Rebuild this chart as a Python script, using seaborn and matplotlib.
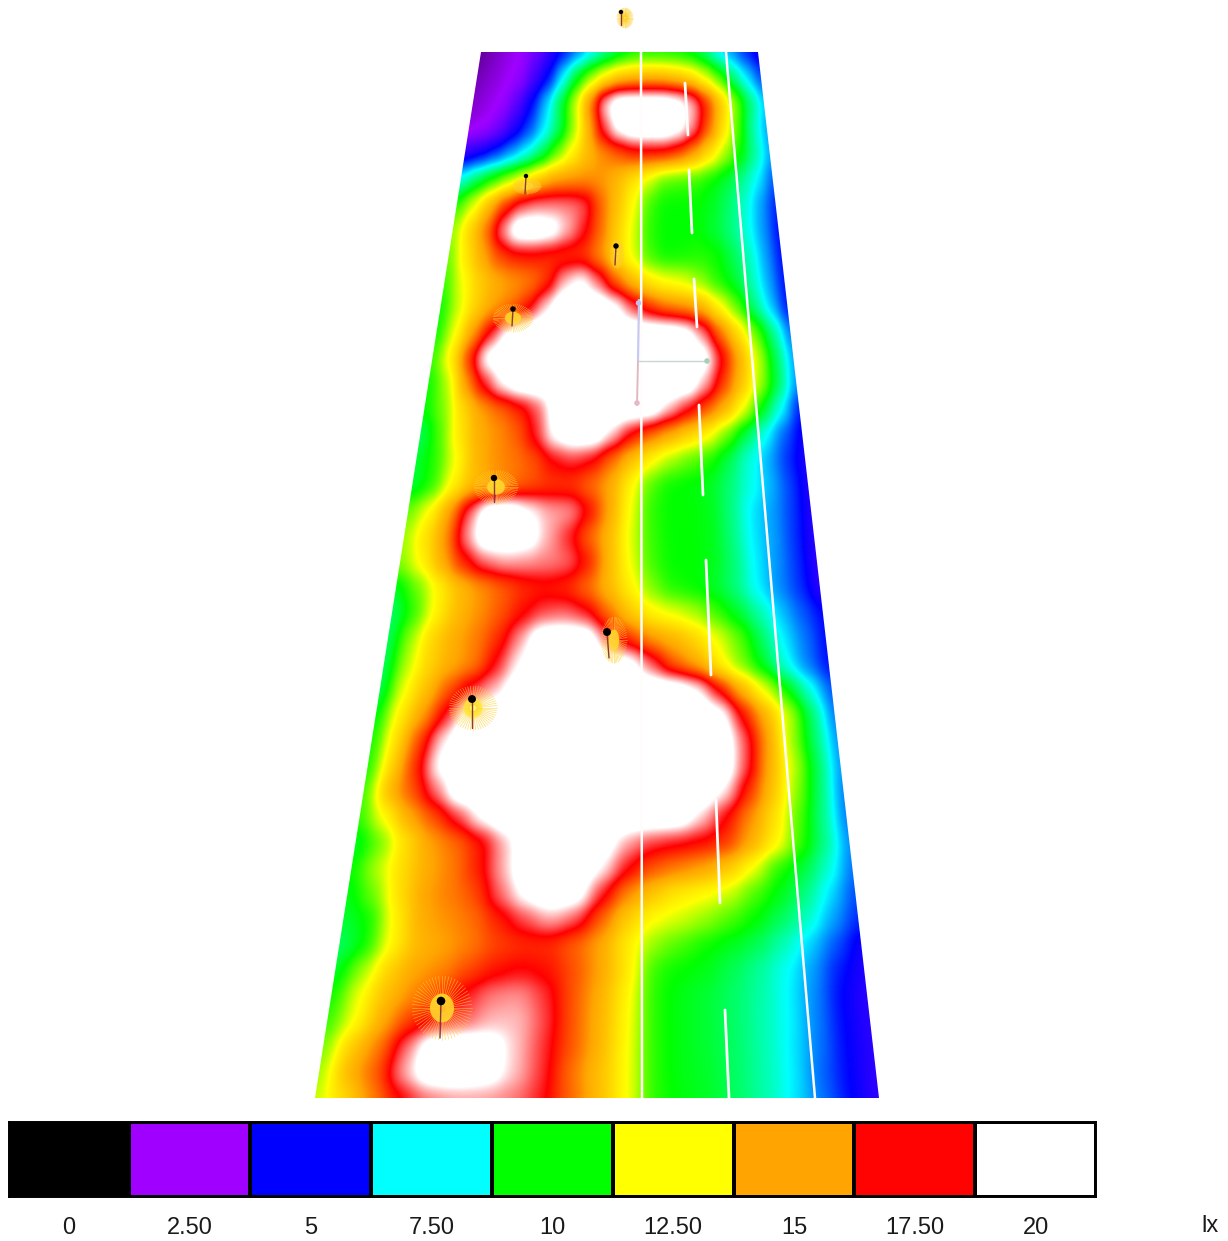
"""
False-colour illuminance map of a road section, lux scale underneath.
"""

import numpy as np
import matplotlib.pyplot as plt
import seaborn as sns
from matplotlib.colors import LinearSegmentedColormap
from matplotlib.patches import Ellipse, Polygon
from matplotlib.transforms import Transform

# scale
SCALE_VALUES = [0, 2.5, 5, 7.5, 10, 12.5, 15, 17.5, 20]
SCALE_LABELS = ["0", "2.50", "5", "7.50", "10", "12.50", "15", "17.50", "20"]
SCALE_COLORS = ["#000000", "#A000FF", "#0000FF", "#00FFFF", "#00FF00",
                "#FFFF00", "#FFA500", "#FF0000", "#FFFFFF"]
WHITE_CAP = 21.5  # everything brighter just reads as white

# lux: one row per scan line, far end first, left kerb to right kerb
ROW_00 = [1.5, 1.9, 2.3, 2.6, 3.3, 4.3, 5.2, 6.2, 7.4, 8.4, 9.3, 9.9, 10, 10, 9.9, 9.6, 8.9, 7.4, 6.4, 5.4, 4.6]
ROW_01 = [1.8, 2.1, 2.4, 2.7, 3.9, 5, 7.4, 9.8, 11.5, 12.9, 14, 14.4, 14.5, 14.4, 14, 13.4, 12.2, 10.8, 8.8, 7.2, 5.6]
ROW_02 = [2, 2.3, 2.6, 3.6, 5, 7, 9.4, 12, 15.6, 19.8, 21.5, 23, 23, 23, 21, 19.6, 17, 14.2, 11.3, 9, 7]
ROW_03 = [2.3, 2.5, 3.2, 4.4, 5.6, 7.2, 9, 11.4, 14.6, 18.2, 20.6, 23, 23, 22.5, 20.8, 19, 16.2, 13.4, 10.8, 8.3, 6.5]
ROW_04 = [4.2, 4.7, 5.5, 6.5, 7.6, 9, 11, 12.8, 14.3, 15.3, 16, 16.8, 17, 17, 16.3, 15, 13.3, 11.7, 10.1, 8.5, 6.6]
ROW_05 = [7.8, 9.2, 10.3, 11.5, 12.7, 14, 15, 15.2, 15.3, 15.2, 14.4, 13.2, 12, 10.8, 10.6, 10.5, 10, 9.4, 8.6, 7.4, 5.8]
ROW_06 = [10.5, 12.2, 14.5, 16.8, 18.3, 18.8, 18.8, 18.8, 18.4, 16, 14.2, 12.6, 10.6, 10, 10, 10, 9.7, 9, 8, 6.6, 5.2]
ROW_07 = [11.5, 13.7, 15.7, 19, 22, 23, 21, 19.4, 17.8, 16, 13.9, 12.2, 10.4, 10, 10, 10, 9.5, 8.8, 7.8, 6.5, 5]
ROW_08 = [11, 13.2, 14.8, 16.4, 17, 17.1, 16.8, 16.6, 16.6, 15.4, 13.6, 12.2, 10.6, 10, 10.1, 10.3, 10.2, 9.3, 8.2, 6.6, 5]
ROW_09 = [10.5, 12.4, 13.8, 14.7, 15.2, 15.6, 16.6, 19.4, 20.5, 18.6, 16, 14.4, 13, 12.5, 12.2, 11.4, 10.3, 9.6, 8.3, 6.7, 5]
ROW_10 = [10, 12, 13.8, 15, 15.6, 17, 19.6, 22, 23, 22.5, 20.6, 18.4, 16.6, 15.6, 15.2, 14.6, 12.8, 11, 8.8, 7, 5]
ROW_11 = [10, 12.4, 15, 17.6, 20.5, 23, 24, 24, 24, 24, 24, 24, 23, 22, 21, 18.9, 15.8, 13.5, 11, 8.7, 6]
ROW_12 = [10.5, 13, 16.8, 20.8, 24, 24, 24, 24, 24, 24, 24, 24, 24, 24, 24, 21, 17.7, 14.7, 12, 9.2, 6.5]
ROW_13 = [10, 11.6, 15.2, 17.8, 20.3, 23, 24, 24, 24, 24, 24, 24, 24, 24, 22.5, 19.3, 16.6, 14.2, 11.7, 9.2, 6.3]
ROW_14 = [10, 11.2, 13.5, 15, 15.8, 16.8, 18.2, 21, 24, 24, 24, 23.5, 21.5, 19.5, 17.8, 16.2, 14.6, 12.4, 9.8, 7.6, 5]
ROW_15 = [9, 10.7, 13.2, 14.7, 15.3, 16, 17.8, 20.5, 23, 22, 19.6, 17.3, 15.8, 14.8, 13.7, 12.7, 11, 9.2, 7.6, 5.9, 4.7]
ROW_16 = [9.5, 10.4, 12.4, 14.5, 15.3, 15.7, 16.2, 17.5, 18, 17.5, 15.8, 14.2, 12.7, 11.6, 10.9, 10.3, 9.3, 7.9, 6.8, 5.5, 4.5]
ROW_17 = [9.4, 10.3, 12.8, 14.2, 15, 15.6, 16.2, 16.6, 16.6, 15.8, 14.8, 12.7, 10.7, 10, 9.9, 9.7, 8.9, 7.8, 6.9, 5.7, 4.5]
ROW_18 = [11, 12.6, 15, 18.5, 22.5, 23, 20.2, 19.2, 19.1, 17.4, 14.8, 12.4, 10.4, 10, 10, 9.8, 8.8, 7.3, 6.6, 5.6, 4.4]
ROW_19 = [11.5, 13.3, 15.2, 19, 23, 24, 21, 19.2, 17.8, 15.9, 14.4, 12.2, 10.5, 10, 10, 9.8, 8.8, 7.3, 6.6, 5.5, 4.3]
ROW_20 = [11.3, 12.8, 14.8, 17, 18.6, 19.2, 19, 18.8, 18.6, 17.2, 14.4, 12.4, 10.6, 10, 10, 9.8, 8.9, 7.4, 6.5, 5.5, 4.2]
ROW_21 = [9.6, 11, 12.8, 14.3, 15.2, 16, 16.8, 17.1, 16.8, 15.8, 14.4, 12.9, 11.2, 10.2, 10, 9.6, 8.8, 7.4, 6.4, 5.5, 4.2]
ROW_22 = [9, 10.4, 12.8, 14.4, 15.3, 16.2, 17.3, 18.2, 18.5, 17.8, 15.8, 14, 12.8, 12.3, 11.7, 10.6, 9.6, 8.4, 7, 5.9, 5]
ROW_23 = [9, 11.5, 13.7, 14.8, 15.6, 16.8, 19, 22, 24, 22, 18.4, 16.6, 15.2, 14.6, 13.7, 12.4, 11, 9.2, 7.4, 6.2, 5]
ROW_24 = [9, 11.8, 13.7, 14.8, 15.5, 17.6, 20, 24, 24, 24, 24, 21, 18.4, 15.9, 14.8, 12.9, 11.2, 9.6, 7.7, 6.2, 5]
ROW_25 = [9, 12.4, 14.2, 16.2, 18, 19.2, 21, 24, 24, 24, 24, 24, 24, 22.5, 20.4, 17.4, 14.6, 12.3, 10, 7.9, 5.7]
ROW_26 = [9.7, 13, 15, 17.6, 21, 24, 24, 24, 24, 24, 24, 24, 24, 24, 24, 20.8, 17.2, 14.6, 11.9, 9, 6]
ROW_27 = [10, 13.4, 16.4, 19.8, 24, 24, 24, 24, 24, 24, 24, 24, 24, 24, 24, 22, 18.4, 15, 11.5, 9, 6.3]
ROW_28 = [10, 13.8, 16.8, 20.5, 24, 24, 24, 24, 24, 24, 24, 24, 24, 24, 24, 22.5, 18.2, 14.6, 11.9, 9.2, 6.3]
ROW_29 = [10.4, 14.6, 16.2, 18.6, 22.5, 24, 24, 24, 24, 24, 24, 24, 24, 24, 24, 20, 16.8, 14.2, 11.4, 9, 6]
ROW_30 = [10.4, 12.6, 14.8, 16.2, 18, 20.4, 24, 24, 24, 24, 24, 24, 24, 22, 19.6, 17.4, 15.4, 13.4, 10.8, 8.7, 6]
ROW_31 = [9.5, 11, 13.4, 15, 15.8, 17, 19.2, 24, 24, 24, 21, 19, 18, 17.6, 17.3, 16.8, 14.8, 12.9, 10.5, 8.7, 6.2]
ROW_32 = [10, 11.8, 13.5, 14.8, 15.6, 17, 19.2, 23, 24, 22.5, 20, 17.6, 16.2, 15.6, 15, 14, 12.4, 10.3, 9.5, 8, 6]
ROW_33 = [9.7, 11, 13.4, 15, 15.6, 16.3, 18.6, 20.5, 23, 21, 17.8, 15.4, 14, 13, 12.6, 12, 10.7, 9.8, 8.8, 7.2, 5.6]
ROW_34 = [9.5, 10, 12.9, 14.8, 15.3, 15.8, 17, 18.2, 19.3, 18.4, 16, 13.8, 12.5, 12.1, 11.5, 10.7, 10, 9.1, 8.1, 6.6, 5.3]
ROW_35 = [9, 10, 12.8, 14.5, 15, 15.6, 16.5, 16.8, 16.8, 16, 14.9, 13, 11.4, 10.7, 10.1, 9.7, 9.2, 8.2, 7.1, 5.8, 4.6]
ROW_36 = [9.5, 11.5, 13.8, 15, 15.4, 16.4, 17.2, 17.6, 17.3, 16.3, 15, 13.2, 10.4, 10, 9.8, 9.2, 8.5, 7.6, 6.6, 5.2, 4.5]
ROW_37 = [10, 12.4, 14.3, 15.4, 16.6, 17.8, 18.8, 19, 18, 16.2, 14.7, 12.8, 10.3, 9.8, 9.5, 9, 8.4, 7.5, 6.4, 5, 4.3]
ROW_38 = [10.4, 12.5, 14.8, 16.6, 17.7, 18.3, 19.3, 19.4, 18.2, 16.2, 14.6, 12.7, 10.3, 9.8, 9.5, 9, 8.3, 7.5, 6.3, 5, 4.3]
ROW_39 = [11, 14, 15.6, 18.6, 22.5, 24, 21, 19.4, 18, 16.2, 14.6, 12.6, 10.3, 9.8, 9.5, 9, 8.3, 7.4, 6.2, 5, 4.3]
ROW_40 = [11.4, 14.6, 16, 19.2, 23, 23.5, 21, 19.4, 18, 15.8, 14.3, 12.6, 10.3, 9.8, 9.6, 9, 8.3, 7.4, 6, 5, 4.2]
ROW_41 = [11.8, 13.5, 15.5, 17.4, 18.6, 19, 19, 18.7, 17.8, 16, 14.4, 12.6, 10.3, 9.9, 9.6, 9, 8.3, 7.3, 6.1, 5, 4.2]

# road outline and markings, picture pixels
ROAD_X_FAR = [481, 758]
ROAD_X_NEAR = [315, 879]
ROAD_Y = [52, 1098]
SOLID_X = [(641, 642), (726, 815)]
SOLID_Y = [(52, 1098), (52, 1098)]
DASH_X = [(685, 688), (689, 692), (694, 697), (699, 703), (706, 711), (716, 720), (725, 729)]
DASH_Y = [(83, 135), (170, 233), (279, 327), (405, 495), (560, 675), (800, 903), (1010, 1098)]

# coordinate cross: line ends and the small tips
CROSS_TIP_X = [638.5, 637, 707]
CROSS_TIP_Y = [303, 403, 361]
CROSS_TIP_COLORS = ["#C4BCEE", "#E8B8C4", "#A8D0B8"]

# luminaires: lamp head, stem end, ray centre and ray radii
LAMP_X = [621, 526, 616, 513, 494, 607, 472, 441]
LAMP_Y = [12, 176, 246, 309, 478, 632, 699, 1001]
LAMP_DOT = [4, 4, 5, 5, 6, 8, 8, 9]
STEM_X = [621, 525, 615, 512, 494, 609, 472, 440]
STEM_Y = [25, 194, 265, 326, 502, 658, 728, 1038]
RAY_X = [625, 527, 617, 513, 496, 614, 473, 442]
RAY_Y = [18, 186, 254, 318, 487, 640, 708, 1008]
RAY_RX = [8, 14, 7, 20, 22, 13, 24, 30]
RAY_RY = [10, 8, 14, 14, 17, 23, 22, 32]

road_rows = [ROW_00, ROW_01, ROW_02, ROW_03, ROW_04, ROW_05, ROW_06, ROW_07, ROW_08, ROW_09,
             ROW_10, ROW_11, ROW_12, ROW_13, ROW_14, ROW_15, ROW_16, ROW_17, ROW_18, ROW_19,
             ROW_20, ROW_21, ROW_22, ROW_23, ROW_24, ROW_25, ROW_26, ROW_27, ROW_28, ROW_29,
             ROW_30, ROW_31, ROW_32, ROW_33, ROW_34, ROW_35, ROW_36, ROW_37, ROW_38, ROW_39,
             ROW_40, ROW_41]
road_lux = np.minimum(np.array(road_rows, dtype=float), WHITE_CAP)
n_rows, n_cols = road_lux.shape


class RoadTransform(Transform):
    """(column, row) of the lux table -> picture pixels, narrowing to the far end."""
    input_dims = 2
    output_dims = 2
    has_inverse = True

    def transform_non_affine(self, values):
        values = np.asarray(values, dtype=float)
        t = values[:, 1] / (n_rows - 1)
        left = ROAD_X_FAR[0] + t * (ROAD_X_NEAR[0] - ROAD_X_FAR[0])
        right = ROAD_X_FAR[1] + t * (ROAD_X_NEAR[1] - ROAD_X_FAR[1])
        x = left + values[:, 0] / (n_cols - 1) * (right - left)
        y = ROAD_Y[0] + t * (ROAD_Y[1] - ROAD_Y[0])
        return np.column_stack([x, y])

    def inverted(self):
        return InverseRoadTransform()


class InverseRoadTransform(Transform):
    input_dims = 2
    output_dims = 2
    has_inverse = True

    def transform_non_affine(self, values):
        values = np.asarray(values, dtype=float)
        t = (values[:, 1] - ROAD_Y[0]) / (ROAD_Y[1] - ROAD_Y[0])
        left = ROAD_X_FAR[0] + t * (ROAD_X_NEAR[0] - ROAD_X_FAR[0])
        right = ROAD_X_FAR[1] + t * (ROAD_X_NEAR[1] - ROAD_X_FAR[1])
        col = (values[:, 0] - left) / (right - left) * (n_cols - 1)
        return np.column_stack([col, t * (n_rows - 1)])

    def inverted(self):
        return RoadTransform()


def draw_line(ax, xs, ys, color, lw, z):
    sns.lineplot(x=list(xs), y=list(ys), color=color, linewidth=lw, sort=False, estimator=None,
                 legend=False, ax=ax, zorder=z)


sns.set_theme(style="white")
plt.rcParams["font.family"] = ["Liberation Sans", "DejaVu Sans"]

lux_cmap = LinearSegmentedColormap.from_list("lux", SCALE_COLORS, N=1024)

fig = plt.figure(figsize=(12.28, 12.41), dpi=100)
ax = fig.add_axes([0, 0, 1, 1])

# the map itself
im = ax.imshow(road_lux, cmap=lux_cmap, vmin=0, vmax=20, aspect="auto",
               interpolation="gaussian", interpolation_stage="data")
im.set_transform(RoadTransform() + ax.transData)
outline = Polygon([(ROAD_X_FAR[0], ROAD_Y[0]), (ROAD_X_FAR[1], ROAD_Y[0]),
                   (ROAD_X_NEAR[1], ROAD_Y[1]), (ROAD_X_NEAR[0], ROAD_Y[1])],
                  transform=ax.transData)
im.set_clip_path(outline)

# road markings
for xs, ys in zip(SOLID_X, SOLID_Y):
    draw_line(ax, xs, ys, "#FFFDFB", 1.8, 3)
for xs, ys in zip(DASH_X, DASH_Y):
    draw_line(ax, xs, ys, "#FFFDFB", 2.0, 3)

# coordinate cross in the middle of the bright patch
draw_line(ax, (639, 638), (300, 361), "#C8C8F0", 1.6, 4)
draw_line(ax, (638, 637), (361, 405), "#E0B8C0", 1.4, 4)
draw_line(ax, (638, 707), (361, 361), "#C4D8CC", 1.0, 4)
sns.scatterplot(x=CROSS_TIP_X, y=CROSS_TIP_Y, c=CROSS_TIP_COLORS, s=16, linewidth=0,
                legend=False, ax=ax, zorder=4)

# luminaires
for cx, cy, rx, ry in zip(RAY_X, RAY_Y, RAY_RX, RAY_RY):
    ax.add_patch(Ellipse((cx, cy), rx * 0.8, ry * 0.9, color="#FFFF30", alpha=0.75, lw=0, zorder=4))
    for a in np.linspace(0, 2 * np.pi, 56, endpoint=False):
        ax.plot([cx + 0.15 * rx * np.cos(a), cx + rx * np.cos(a)],
                [cy + 0.15 * ry * np.sin(a), cy + ry * np.sin(a)],
                color="#FFD030", linewidth=0.5, alpha=0.7, zorder=5)
for x0, y0, x1, y1 in zip(LAMP_X, LAMP_Y, STEM_X, STEM_Y):
    draw_line(ax, (x0, x1), (y0, y1), "#8A3A30", 1.0, 6)
sns.scatterplot(x=LAMP_X, y=LAMP_Y, size=LAMP_DOT, sizes=(10, 38), color="black", linewidth=0,
                legend=False, ax=ax, zorder=7)

ax.set_xlim(0, 1228)
ax.set_ylim(1241, 0)
ax.axis("off")

ax.text(1210, 1226, "lx", fontsize=17, ha="center", va="center", color="#1A1A1A")

# lux scale
cax = fig.add_axes([8.5 / 1228, 1 - 1197 / 1241, 1087.5 / 1228, 75 / 1241])
sns.heatmap(np.array([SCALE_VALUES]), cmap=lux_cmap, vmin=0, vmax=20, cbar=False,
            linewidths=1.6, linecolor="black", xticklabels=SCALE_LABELS, yticklabels=False, ax=cax)
for side in cax.spines.values():
    side.set_visible(True)
    side.set_color("black")
    side.set_linewidth(1.4)
cax.tick_params(axis="x", length=0, pad=14.5, labelsize=17, labelcolor="#1A1A1A", labelrotation=0)

fig.savefig("out.png", dpi=100)
plt.close(fig)
